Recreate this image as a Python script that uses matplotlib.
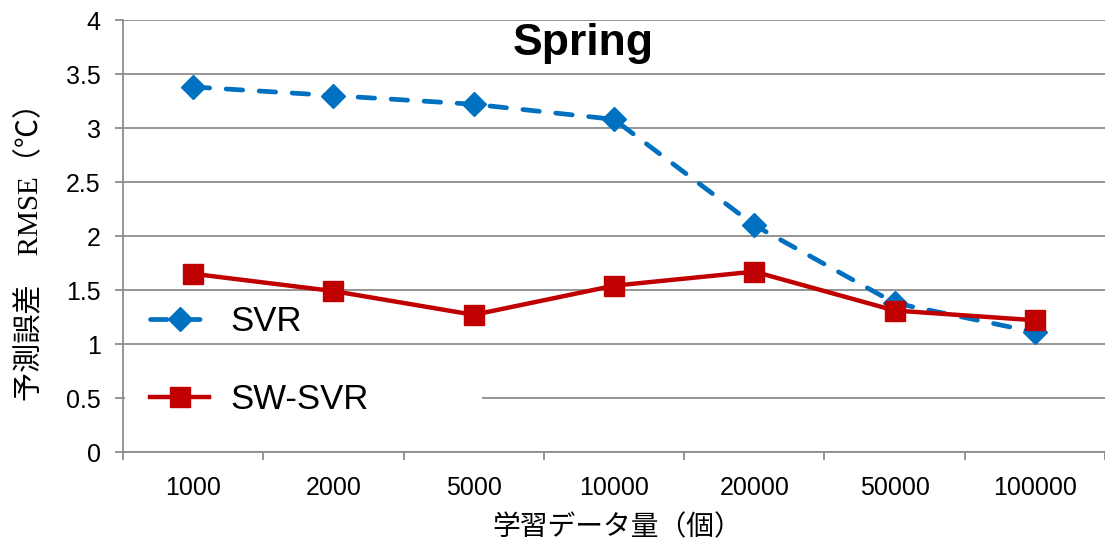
import matplotlib
matplotlib.use("Agg")
import matplotlib.pyplot as plt
import matplotlib.transforms as mtransforms
from matplotlib.patches import Rectangle
from matplotlib.lines import Line2D

plt.rcParams['font.family'] = ['Liberation Sans', 'Noto Sans CJK JP']

sizes = ["1000", "2000", "5000", "10000", "20000", "50000", "100000"]
svr = [3.38, 3.30, 3.22, 3.08, 2.10, 1.38, 1.11]
sw_svr = [1.65, 1.49, 1.27, 1.54, 1.67, 1.31, 1.22]

BLUE = "#0070C0"
RED = "#C00000"
GRID = "#8c8c8c"
DASH = (0, (3.5, 3.5))

fig = plt.figure(figsize=(11.05, 5.44), dpi=100)
ax = fig.add_axes([123 / 1105, 92 / 544, 982 / 1105, 432 / 544])

x = list(range(len(sizes)))
ax.plot(x, svr, color=BLUE, lw=3.4, ls=DASH, dash_capstyle="round",
        marker="D", ms=12, mfc=BLUE, mec=BLUE, zorder=3)
ax.plot(x, sw_svr, color=RED, lw=3.2, marker="s", ms=14,
        mfc=RED, mec=RED, zorder=4)

ax.set_xlim(-0.5, len(sizes) - 0.5)
ax.set_ylim(0, 4)
ax.set_yticks([i * 0.5 for i in range(9)])
ax.set_yticklabels(["0", "0.5", "1", "1.5", "2", "2.5", "3", "3.5", "4"])
ax.set_xticks(x)
ax.set_xticklabels(sizes)
ax.set_xticks([i - 0.5 for i in range(len(sizes) + 1)], minor=True)

ax.grid(axis="y", color=GRID, lw=1.3)
ax.set_axisbelow(True)
for s in ("top", "right"):
    ax.spines[s].set_visible(False)
for s in ("left", "bottom"):
    ax.spines[s].set_color(GRID)
    ax.spines[s].set_linewidth(1.3)

ax.tick_params(axis="y", labelsize=18, length=6, width=1.3, color=GRID, pad=10)
ax.tick_params(axis="x", which="major", labelsize=18, length=0, pad=17)
ax.tick_params(axis="x", which="minor", length=6, width=1.3, color=GRID)

# white backing behind the legend, hiding the 0.5 gridline there
blend = mtransforms.blended_transform_factory(ax.transAxes, ax.transData)
ax.add_patch(Rectangle((0.002, 0.05), 0.364, 0.9, transform=blend,
                       facecolor="white", edgecolor="none", zorder=1))

handles = [
    Line2D([0], [0], color=BLUE, lw=3.4, ls=DASH, dash_capstyle="round",
           marker="D", ms=12, mfc=BLUE, mec=BLUE, label="SVR"),
    Line2D([0], [0], color=RED, lw=3.2, marker="s", ms=14, mfc=RED, mec=RED,
           label="SW-SVR"),
]
ax.legend(handles=handles, loc="center left", bbox_to_anchor=(0.01, 0.212),
          frameon=False, fontsize=25, borderpad=0, handlelength=1.7,
          handletextpad=0.6, labelspacing=1.3)

fig.text(583 / 1105, 1 - 55 / 544, "Spring", fontsize=32, fontweight="bold",
         ha="center", va="baseline")
fig.text(617 / 1105, 1 - 527 / 544, "学習データ量（個）", fontsize=20,
         family=["Noto Sans CJK JP"], ha="center", va="center")
fig.text(30 / 1105, 1 - 245 / 544, "予測誤差　RMSE（℃）", fontsize=21,
         family=["Liberation Serif", "Noto Sans CJK JP"], rotation=90,
         ha="center", va="center")

fig.savefig("out.png", dpi=100)
